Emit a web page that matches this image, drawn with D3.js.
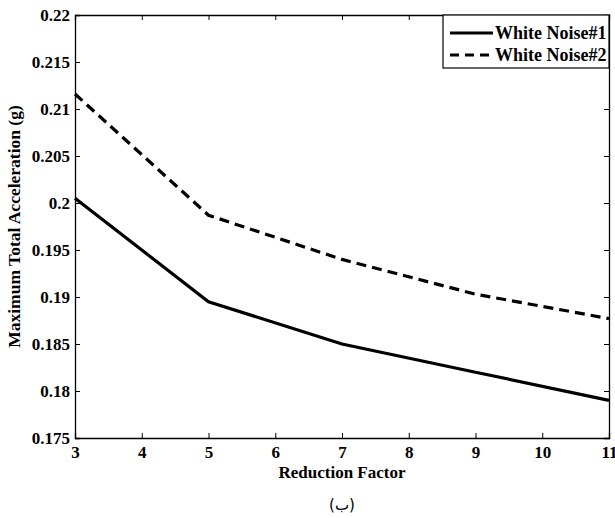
<!DOCTYPE html>
<html>
<head>
<meta charset="utf-8">
<script src="https://cdn.jsdelivr.net/npm/d3@7"></script>
<style>
html,body{margin:0;padding:0;background:#fff;}
svg{display:block;}
text{font-family:"Liberation Serif","Times New Roman",Times,"DejaVu Serif",serif;font-weight:bold;fill:#000;}
</style>
</head>
<body>
<svg id="chart" width="615" height="518"></svg>
<script>
const reductionFactors = [3, 5, 7, 9, 11];
const whiteNoise1 = [0.2005, 0.1895, 0.1850, 0.1820, 0.1790];
const whiteNoise2 = [0.2116, 0.1987, 0.1940, 0.1903, 0.1877];
const seriesNames = ["White Noise#1", "White Noise#2"];
const xTicks = [3, 4, 5, 6, 7, 8, 9, 10, 11];
const yTicks = [0.175, 0.18, 0.185, 0.19, 0.195, 0.2, 0.205, 0.21, 0.215, 0.22];
const xTitle = "Reduction Factor";
const yTitle = "Maximum Total Acceleration (g)";
const caption = "(ب)";

const SERIF = '"Liberation Serif","Times New Roman",Times,"DejaVu Serif",serif';
const svg = d3.select("#chart");
const L = 75, R = 609, T = 15, B = 438;
const x = d3.scaleLinear().domain([3, 11]).range([L, R]);
const y = d3.scaleLinear().domain([0.175, 0.22]).range([B, T]);

// axes
const gx = svg.append("g").attr("transform", `translate(0,${B})`)
  .call(d3.axisBottom(x).tickValues(xTicks).tickSize(-5).tickPadding(8).tickFormat(d3.format("d")));
const gxTop = svg.append("g").attr("transform", `translate(0,${T})`)
  .call(d3.axisTop(x).tickValues(xTicks).tickSize(-5).tickFormat(""));
const gy = svg.append("g").attr("transform", `translate(${L},0)`)
  .call(d3.axisLeft(y).tickValues(yTicks).tickSize(-5).tickPadding(5).tickFormat(d => String(+d.toFixed(3))));
const gyR = svg.append("g").attr("transform", `translate(${R},0)`)
  .call(d3.axisRight(y).tickValues(yTicks).tickSize(-5).tickFormat(""));

[gx, gxTop, gy, gyR].forEach(g => {
  g.attr("font-family", null).attr("font-size", null);
  g.select(".domain").attr("stroke", "#000").attr("stroke-width", 1.3);
  g.selectAll(".tick line").attr("stroke", "#000").attr("stroke-width", 1);
  g.selectAll("text").style("font-family", SERIF).style("font-weight", "bold")
    .style("font-size", "17px").attr("fill", "#000");
});
gx.selectAll("text").attr("dy", "0.71em");

// lines
const line = d3.line().x((d, i) => x(reductionFactors[i])).y(d => y(d));
svg.append("path").datum(whiteNoise1).attr("d", line)
  .attr("fill", "none").attr("stroke", "#000").attr("stroke-width", 3.2);
svg.append("path").datum(whiteNoise2).attr("d", line)
  .attr("fill", "none").attr("stroke", "#000").attr("stroke-width", 3.2)
  .attr("stroke-dasharray", "10,6");

// titles
svg.append("text").attr("x", (L + R) / 2).attr("y", 478).attr("text-anchor", "middle")
  .style("font-size", "17px").text(xTitle);
svg.append("text").attr("transform", `translate(20,${(T + B) / 2}) rotate(-90)`)
  .attr("text-anchor", "middle").style("font-size", "17.5px").text(yTitle);
svg.append("text").attr("x", (L + R) / 2).attr("y", 510).attr("text-anchor", "middle")
  .style("font-family", '"DejaVu Sans",sans-serif').style("font-weight", "normal").style("font-size", "15px").text(caption);

// legend
const lg = svg.append("g");
lg.append("rect").attr("x", 443).attr("y", T).attr("width", R - 443).attr("height", 53)
  .attr("fill", "#fff").attr("stroke", "#000").attr("stroke-width", 1.2);
seriesNames.forEach((n, i) => {
  const yy = T + 18 + i * 22;
  lg.append("line").attr("x1", 450).attr("x2", 493).attr("y1", yy).attr("y2", yy)
    .attr("stroke", "#000").attr("stroke-width", 3.2)
    .attr("stroke-dasharray", i === 1 ? "9,6" : null);
  lg.append("text").attr("x", 495).attr("y", yy + 6).style("font-size", "18px").text(n);
});
</script>
</body>
</html>
